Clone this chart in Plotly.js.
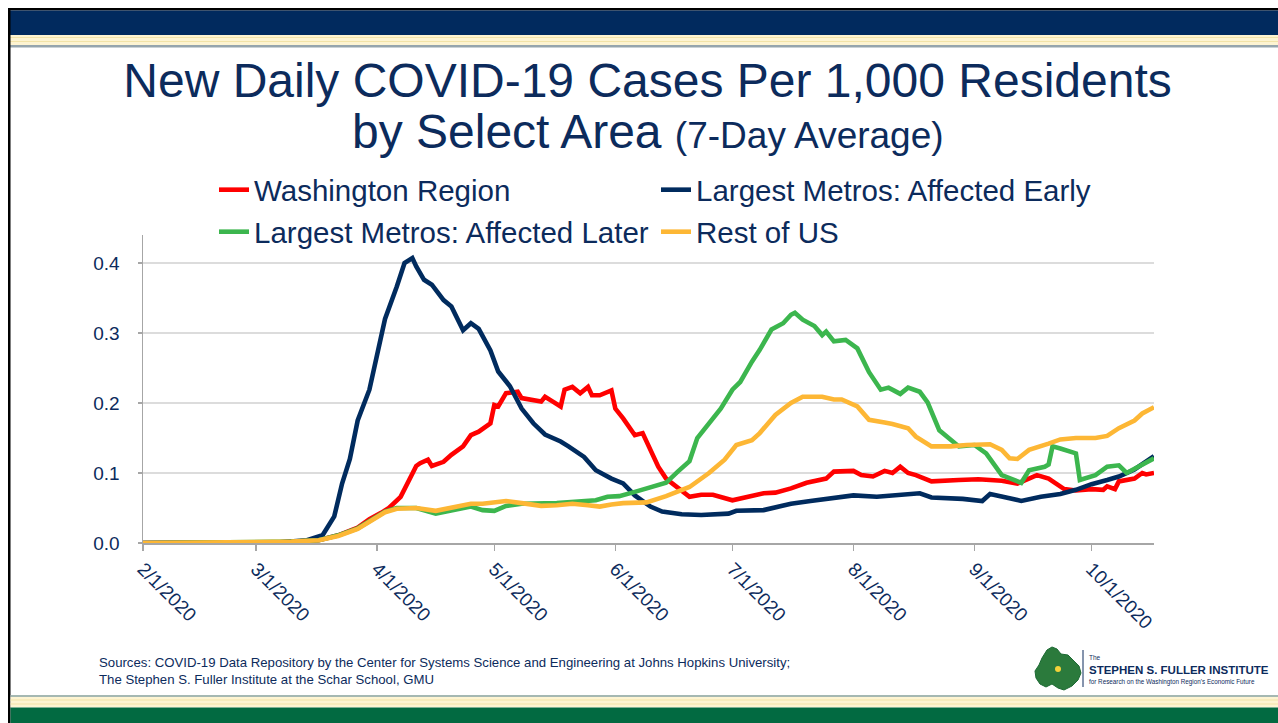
<!DOCTYPE html>
<html>
<head>
<meta charset="utf-8">
<script src="https://cdn.plot.ly/plotly-3.0.1.min.js"></script>
<style>
  html, body { margin: 0; padding: 0; background: #ffffff; }
  #chart { width: 1278px; height: 723px; }
</style>
</head>
<body>
<div id="chart"></div>
<script>
// ---------------- DATA (day offsets from 2/1/2020, 7-day avg per 1,000 residents) ----------------
const START_DATE = '2020-02-01';
const END_DATE = '2020-10-17';

const seriesNames = ['Washington Region', 'Largest Metros: Affected Early', 'Largest Metros: Affected Later', 'Rest of US'];

const washingtonDays = [0,35,45,50,55,58,61,63,66,68,70,71,73,74,77,79,82,84,86,89,90,91,93,96,97,102,103,105,107,108,110,112,114,115,117,120,121,123,126,128,130,132,134,137,140,143,146,151,155,159,162,166,170,175,177,182,184,187,190,192,194,196,198,202,209,214,220,224,229,232,236,239,243,246,247,249,250,254,256,257,259];
const washingtonVals = [0,0.001,0.004,0.011,0.022,0.034,0.043,0.050,0.066,0.087,0.110,0.114,0.119,0.110,0.116,0.126,0.138,0.154,0.159,0.171,0.197,0.195,0.214,0.216,0.207,0.202,0.209,0.202,0.195,0.219,0.223,0.214,0.223,0.211,0.211,0.218,0.192,0.178,0.154,0.157,0.133,0.109,0.092,0.078,0.066,0.069,0.069,0.061,0.066,0.071,0.072,0.078,0.086,0.092,0.102,0.103,0.097,0.095,0.103,0.100,0.109,0.100,0.097,0.088,0.090,0.091,0.089,0.085,0.097,0.092,0.077,0.075,0.077,0.076,0.081,0.077,0.088,0.092,0.100,0.098,0.100];

const earlyDays = [0,35,42,44,46,49,51,53,55,58,60,62,65,67,69,70,72,74,77,79,82,84,86,89,91,94,97,100,103,107,109,113,116,120,123,126,130,133,138,143,150,152,159,162,166,171,176,182,188,194,199,202,210,215,217,222,225,230,235,239,243,247,250,254,259];
const earlyVals = [0,0.001,0.004,0.007,0.011,0.038,0.085,0.120,0.175,0.219,0.268,0.320,0.366,0.400,0.407,0.395,0.376,0.369,0.347,0.338,0.304,0.314,0.306,0.275,0.245,0.224,0.192,0.171,0.155,0.145,0.138,0.123,0.104,0.092,0.085,0.068,0.052,0.045,0.041,0.040,0.042,0.046,0.047,0.051,0.056,0.060,0.064,0.068,0.066,0.068,0.071,0.065,0.063,0.060,0.070,0.064,0.060,0.066,0.070,0.076,0.084,0.090,0.095,0.105,0.124];

const laterDays = [0,35,38,45,50,55,59,62,65,70,75,80,84,87,90,93,97,106,113,116,119,122,126,130,134,137,140,142,145,148,151,153,156,158,161,164,166,167,169,172,174,175,177,180,183,186,189,191,194,196,199,201,204,207,209,213,216,220,225,227,231,232,233,235,239,240,244,247,250,252,256,259];
const laterVals = [0,0.001,0.002,0.004,0.011,0.021,0.035,0.045,0.050,0.050,0.042,0.047,0.052,0.047,0.046,0.053,0.056,0.057,0.059,0.061,0.066,0.067,0.073,0.080,0.086,0.102,0.117,0.150,0.171,0.192,0.219,0.230,0.259,0.276,0.305,0.314,0.326,0.329,0.319,0.310,0.297,0.302,0.288,0.290,0.278,0.244,0.219,0.222,0.213,0.222,0.216,0.201,0.161,0.146,0.138,0.140,0.128,0.097,0.086,0.104,0.109,0.112,0.138,0.135,0.128,0.090,0.097,0.109,0.111,0.100,0.111,0.121];

const restDays = [0,35,38,45,50,55,59,62,65,70,75,80,84,87,90,93,97,102,106,110,114,117,120,123,129,134,140,145,149,152,156,158,162,166,169,173,174,177,179,183,186,190,192,196,198,202,207,211,217,220,222,224,227,232,235,239,244,247,250,254,256,259];
const restVals = [0,0.001,0.002,0.004,0.010,0.020,0.034,0.044,0.049,0.050,0.046,0.051,0.056,0.056,0.058,0.060,0.057,0.053,0.054,0.056,0.054,0.052,0.055,0.057,0.058,0.067,0.080,0.100,0.119,0.140,0.147,0.157,0.183,0.200,0.209,0.210,0.209,0.205,0.205,0.195,0.176,0.172,0.170,0.164,0.152,0.138,0.138,0.140,0.141,0.133,0.121,0.120,0.133,0.142,0.148,0.150,0.150,0.153,0.164,0.175,0.185,0.194];

const yTickVals = [0, 0.1, 0.2, 0.3, 0.4];
const sourcesText = 'Sources: COVID-19 Data Repository by the Center for Systems Science and Engineering at Johns Hopkins University;<br>The Stephen S. Fuller Institute at the Schar School, GMU';

// ---------------- helpers ----------------
function dayToDate(d) {
  const t = new Date(START_DATE + 'T00:00:00Z');
  t.setUTCDate(t.getUTCDate() + d);
  return t.toISOString().slice(0, 10);
}

const W = 1278, H = 723;
const M = { l: 143, r: 124, t: 235, b: 180 };
const PW = W - M.l - M.r, PH = H - M.t - M.b;
const px = x => (x - M.l) / PW;
const py = y => (H - M.b - y) / PH;

const NAVY_TXT = '#0c2b5c';
const FONT = 'Liberation Sans, Arial, sans-serif';

const colors = ['#ff0000', '#002b5e', '#3cb64e', '#fdb735'];
const dayArrays = [washingtonDays, earlyDays, laterDays, restDays];
const valArrays = [washingtonVals, earlyVals, laterVals, restVals];
const legendIds = ['legend', 'legend', 'legend2', 'legend2'];

const traces = seriesNames.map((name, i) => ({
  type: 'scatter',
  mode: 'lines',
  name: name,
  x: dayArrays[i].map(dayToDate),
  y: valArrays[i],
  line: { color: colors[i], width: 4.6 },
  legend: legendIds[i],
  hoverinfo: 'skip'
}));

// ---------------- decoration shapes ----------------
function rect(x0, y0, x1, y1, color) {
  return { type: 'rect', xref: 'paper', yref: 'paper', x0: px(x0), x1: px(x1), y0: py(y1), y1: py(y0),
           fillcolor: color, line: { width: 0 }, layer: 'above' };
}
function hline(x0, x1, y, color, w) {
  return { type: 'line', xref: 'paper', yref: 'paper', x0: px(x0), x1: px(x1), y0: py(y), y1: py(y),
           line: { color: color, width: w }, layer: 'above' };
}
function polyPath(pts) {
  return pts.map((p, i) => (i ? 'L' : 'M') + px(p[0]).toFixed(5) + ',' + py(p[1]).toFixed(5)).join(' ') + ' Z';
}
const mapOutline = [[1047,650],[1052,647],[1057,649],[1061,654],[1068,655],[1073,660],[1079,666],[1081,673],[1078,680],[1072,686],[1064,690],[1058,688],[1052,684],[1046,687],[1040,684],[1036,678],[1035,671],[1039,665],[1042,658]];

const shapes = [
  rect(8, 8, 1278, 10.5, '#000000'),
  rect(10, 10.5, 1278, 35, '#012a5e'),
  rect(10, 35, 1278, 45, '#fdf4d2'),
  hline(10, 1278, 37.5, '#f2e3a8', 1),
  hline(10, 1278, 41.5, '#f2e3a8', 1),
  rect(10, 45, 1278, 47.5, '#95a5ad'),
  rect(8, 8, 10.5, 723, '#000000'),
  rect(10.5, 695, 1278, 697, '#a5b8b2'),
  rect(10.5, 697, 1278, 707.5, '#fdf4d2'),
  hline(10.5, 1278, 700, '#f2e3a8', 1),
  hline(10.5, 1278, 704, '#f2e3a8', 1),
  rect(10.5, 707.5, 1278, 723, '#026a41'),
  { type: 'path', xref: 'paper', yref: 'paper', path: polyPath(mapOutline),
    fillcolor: '#2b7a3c', line: { color: '#1d6a34', width: 1 }, layer: 'above' },
  { type: 'circle', xref: 'paper', yref: 'paper', x0: px(1055), x1: px(1061), y0: py(672), y1: py(666),
    fillcolor: '#f3d23a', line: { width: 0 }, layer: 'above' },
  { type: 'line', xref: 'paper', yref: 'paper', x0: px(1083), x1: px(1083), y0: py(650), y1: py(687),
    line: { color: NAVY_TXT, width: 1 }, layer: 'above' }
];

// ---------------- annotations ----------------
const annotations = [
  { xref: 'paper', yref: 'paper', x: px(647.5), y: py(131), xanchor: 'center', yanchor: 'middle',
    text: 'by Select Area <span style="font-size:37px">(7-Day Average)</span>', showarrow: false,
    font: { family: FONT, size: 48, color: NAVY_TXT } },
  { xref: 'paper', yref: 'paper', x: px(97), y: py(671), xanchor: 'left', yanchor: 'middle', align: 'left',
    text: sourcesText, showarrow: false, font: { family: FONT, size: 13.2, color: NAVY_TXT } },
  { xref: 'paper', yref: 'paper', x: px(1087), y: py(657), xanchor: 'left', yanchor: 'middle',
    text: 'The', showarrow: false, font: { family: FONT, size: 6.5, color: NAVY_TXT } },
  { xref: 'paper', yref: 'paper', x: px(1087), y: py(670), xanchor: 'left', yanchor: 'middle',
    text: '<b>STEPHEN S. FULLER INSTITUTE</b>', showarrow: false, font: { family: FONT, size: 11.5, color: NAVY_TXT } },
  { xref: 'paper', yref: 'paper', x: px(1087), y: py(682), xanchor: 'left', yanchor: 'middle',
    text: 'for Research on the Washington Region\'s Economic Future', showarrow: false,
    font: { family: FONT, size: 6.3, color: NAVY_TXT } }
];

const legendCommon = {
  orientation: 'h', xanchor: 'left', yanchor: 'middle', x: px(214),
  entrywidth: 397, entrywidthmode: 'pixels', itemwidth: 30, traceorder: 'normal',
  bgcolor: 'rgba(0,0,0,0)', font: { family: FONT, size: 29.5, color: NAVY_TXT }, itemclick: false
};

const layout = {
  width: W, height: H,
  margin: M,
  paper_bgcolor: '#ffffff', plot_bgcolor: '#ffffff',
  font: { family: FONT, color: NAVY_TXT },
  title: {
    text: 'New Daily COVID-19 Cases Per 1,000 Residents',
    font: { family: FONT, size: 48, color: NAVY_TXT },
    xref: 'container', yref: 'container', x: 647.5 / W, xanchor: 'center',
    y: 1 - 80 / H, yanchor: 'middle'
  },
  showlegend: true,
  legend: Object.assign({}, legendCommon, { y: py(190) }),
  legend2: Object.assign({}, legendCommon, { y: py(232) }),
  xaxis: {
    type: 'date',
    range: [START_DATE, END_DATE],
    tick0: START_DATE, dtick: 'M1', tickformat: '%-m/%-d/%Y', tickangle: 45,
    ticks: 'outside', ticklen: 6, tickwidth: 1.5, tickcolor: '#a6a6a6',
    showline: true, linecolor: '#a6a6a6', linewidth: 1.5,
    showgrid: false, zeroline: false,
    tickfont: { family: FONT, size: 19, color: NAVY_TXT }
  },
  yaxis: {
    range: [0, 0.44],
    tickvals: yTickVals, tickformat: '.1f',
    ticks: 'outside', ticklen: 4, tickwidth: 1.5, tickcolor: '#a6a6a6',
    showline: true, linecolor: '#a6a6a6', linewidth: 1.5,
    showgrid: true, gridcolor: '#dcdcdc', gridwidth: 2,
    zeroline: false, ticklabelstandoff: 14,
    tickfont: { family: FONT, size: 19, color: NAVY_TXT }
  },
  shapes: shapes,
  annotations: annotations
};

Plotly.newPlot('chart', traces, layout, { displayModeBar: false, staticPlot: true });
</script>
</body>
</html>
